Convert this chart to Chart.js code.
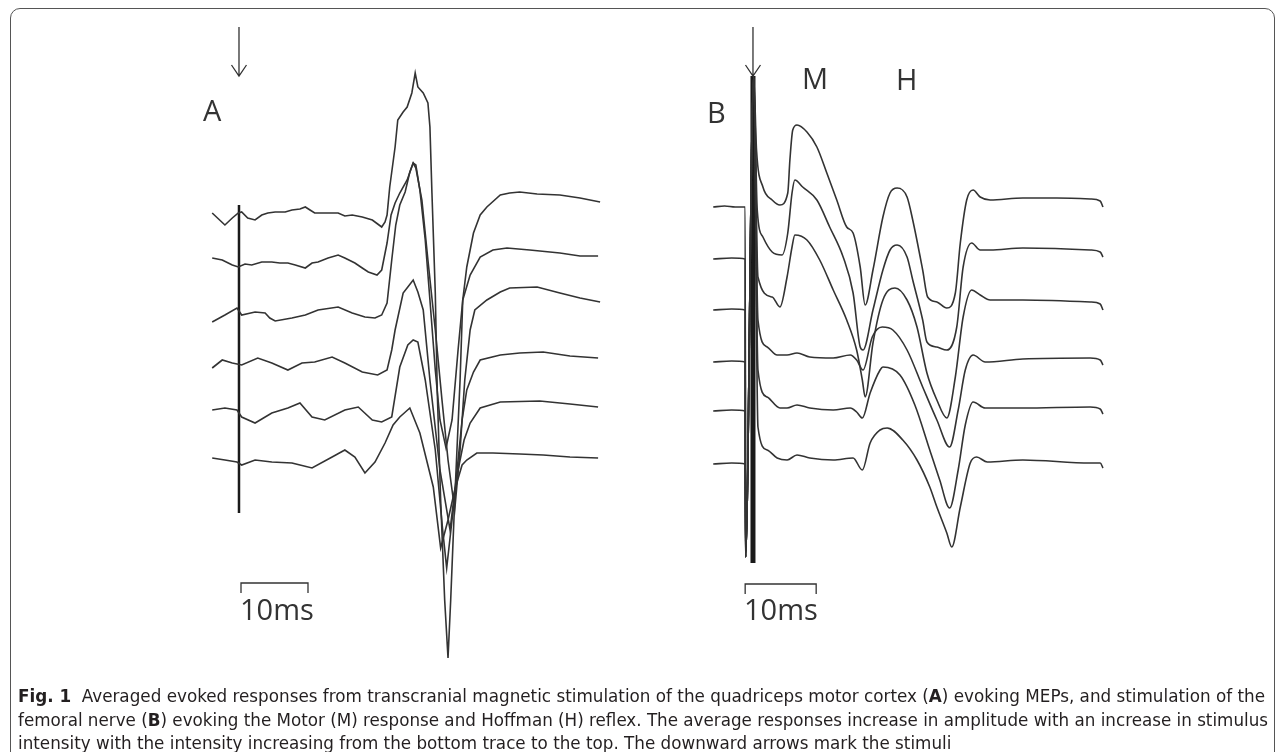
<!DOCTYPE html>
<html>
<head>
<meta charset="utf-8">
<script src="https://cdn.jsdelivr.net/npm/chart.js@4/dist/chart.umd.min.js"></script>
<style>
  body { margin: 0; background: #fff; width: 1284px; height: 752px; overflow: hidden; position: relative; font-family: "Open Sans", sans-serif; }
  .frame { position: absolute; left: 10px; top: 8px; width: 1263px; height: 800px; border: 1.5px solid #555; border-radius: 10px; }
  canvas { position: absolute; }
  .lbl { position: absolute; font-size: 29px; line-height: 1; color: #333; }
  .cap { position: absolute; left: 18px; font-family: "DejaVu Sans Condensed", "Liberation Sans Narrow", sans-serif; font-size: 18px; line-height: 24px; color: #231f20; white-space: nowrap; transform-origin: 0 0; }
</style>
</head>
<body>
<div class="frame"></div>
<canvas id="chartA" width="420" height="680" style="left:200px; top:20px;"></canvas>
<canvas id="chartB" width="440" height="680" style="left:690px; top:20px;"></canvas>

<div class="lbl" style="left:203px; top:95px;">A</div>
<div class="lbl" style="left:707px; top:97px;">B</div>
<div class="lbl" style="left:802px; top:63px;">M</div>
<div class="lbl" style="left:896px; top:64px;">H</div>
<div class="lbl" style="left:240px; top:594px;">10ms</div>
<div class="lbl" style="left:744px; top:594px;">10ms</div>

<div class="cap" data-w="1247" style="top:684px;"><b>Fig. 1</b>&nbsp; Averaged evoked responses from transcranial magnetic stimulation of the quadriceps motor cortex (<b>A</b>) evoking MEPs, and stimulation of the</div>
<div class="cap" data-w="1250" style="top:708px;">femoral nerve (<b>B</b>) evoking the Motor (M) response and Hoffman (H) reflex. The average responses increase in amplitude with an increase in stimulus</div>
<div class="cap" id="lastLine" style="top:731px;">intensity with the intensity increasing from the bottom trace to the top. The downward arrows mark the stimuli</div>

<script>
// Panel A: TMS motor evoked potentials, [time ms, amplitude] per trace, top trace first
var a1 = [[-4.0,0],[-2.1,-12],[-1.0,-5],[-0.1,0],[0.4,1],[1.3,-5],[2.4,-7],[3.4,-2],[4.3,0],[5.4,1],[6.9,1],[7.9,3],[9.1,4],[9.9,6],[10.6,3],[11.3,0],[12.8,0],[14.8,0],[15.8,-3],[16.9,-2],[18.4,-4],[19.9,-7],[20.7,-11],[21.3,-14],[21.8,-9],[22.1,-2],[22.5,26],[23.3,66],[23.7,93],[24.5,101],[25.1,106],[25.8,120],[26.3,140],[26.7,126],[27.5,120],[28.2,110],[28.5,86],[28.8,20],[29.3,-80],[29.6,-180],[30.1,-287],[30.7,-387],[31.2,-445],[31.6,-387],[32.2,-287],[33.0,-167],[33.4,-87],[34.0,-54],[35.0,-20],[36.0,-2],[37.0,6],[39.0,18],[40.4,20],[41.9,21],[44.5,19],[47.9,18],[50.9,15],[53.9,11]];
var a2 = [[-4.0,2],[-2.5,0],[-1.0,-5],[-0.1,-7],[0.9,-4],[1.9,-5],[3.4,-2],[4.9,-2],[6.1,-3],[7.3,-3],[8.4,-5],[9.9,-8],[10.9,-3],[11.8,-2],[13.3,2],[14.8,5],[15.8,2],[17.3,-3],[18.4,-8],[19.3,-12],[20.6,-15],[21.3,-10],[22.1,17],[22.7,45],[23.3,57],[24.0,67],[25.1,80],[26.0,97],[26.4,95],[27.0,70],[27.8,20],[28.5,-40],[29.3,-110],[30.0,-160],[30.9,-188],[31.8,-160],[32.7,-90],[33.4,-40],[34.5,-15],[36.0,3],[37.9,10],[40.0,12],[43.4,10],[47.9,7],[50.9,4],[53.6,4]];
var a3 = [[-4.0,-4],[-2.1,3],[-0.3,10],[0.4,3],[2.4,6],[3.9,5],[4.6,0],[5.4,-3],[7.9,0],[9.9,3],[11.8,8],[14.8,11],[16.9,5],[18.8,1],[20.3,0],[21.3,3],[22.1,15],[22.8,58],[23.4,93],[24.0,113],[24.8,126],[25.5,146],[26.0,155],[26.4,150],[27.3,118],[28.2,58],[29.3,-12],[30.3,-82],[31.2,-142],[32.2,-192],[33.0,-132],[33.7,-62],[34.5,-12],[35.2,8],[37.0,18],[39.0,26],[40.4,30],[44.5,31],[47.9,25],[50.9,20],[53.9,16]];
var a4 = [[-4.0,-1],[-2.5,7],[-1.0,4],[0.4,2],[2.8,9],[4.9,4],[7.3,-3],[9.4,4],[11.3,5],[13.9,10],[15.8,4],[18.4,-5],[20.7,-8],[22.1,-3],[22.8,17],[23.3,37],[24.5,74],[25.2,80],[26.0,87],[26.7,75],[27.5,57],[28.5,-13],[30.0,-103],[31.5,-163],[32.4,-113],[33.3,-53],[34.0,-23],[35.0,-5],[36.0,7],[39.0,12],[41.9,14],[45.4,15],[49.4,11],[53.6,9]];
var a5 = [[-4.0,0],[-2.1,2],[-0.3,0],[0.4,-7],[2.4,-13],[4.9,-3],[7.3,2],[9.1,7],[10.9,-7],[12.8,-10],[15.8,0],[17.8,3],[19.9,-10],[21.3,-12],[22.8,-7],[24.0,43],[25.2,65],[26.0,70],[26.7,68],[27.8,30],[29.3,-40],[30.4,-120],[31.0,-158],[31.8,-110],[32.7,-60],[33.6,-30],[34.5,-13],[36.0,2],[39.0,8],[44.9,9],[49.4,6],[53.6,3]];
var a6 = [[-4.0,2],[-2.1,0],[-0.3,-2],[0.4,-5],[2.4,0],[4.9,-2],[7.9,-3],[10.9,-8],[13.9,3],[15.8,10],[17.3,3],[18.8,-13],[20.3,-2],[21.8,17],[23.0,35],[24.0,43],[25.5,52],[27.0,27],[29.0,-27],[30.1,-88],[31.2,-60],[32.2,-30],[33.3,-5],[34.0,0],[35.5,7],[37.9,7],[41.9,6],[45.4,5],[49.4,3],[53.6,2]];
var offsetsA = [247, 200, 142, 93, 50, 0];

// Panel B: femoral nerve M and H responses
var b1 = [[-5.6,0],[-4.0,1],[-2.5,0],[-1.1,0],[-1.05,-350],[0.1,131],[0.5,57],[1.4,20],[2.7,7],[3.8,2],[4.9,14],[5.2,47],[5.6,77],[6.2,82],[7.6,75],[9.0,60],[10.4,34],[11.8,7],[13.2,-20],[14.1,-26],[15.1,-60],[15.8,-98],[16.9,-63],[18.3,-10],[19.3,14],[20.3,19],[21.7,10],[22.5,-13],[23.9,-63],[24.6,-90],[25.9,-95],[27.3,-101],[28.5,-86],[29.2,-36],[30.1,7],[31.0,17],[32.0,10],[33.4,7],[38.0,9],[42.8,9],[47.5,8],[48.9,6],[49.3,0]];
var b2 = [[-5.6,0],[-3.0,1],[-1.1,0],[-1.05,-298],[0.1,183],[0.6,49],[1.4,22],[2.7,7],[4.1,4],[4.9,26],[5.5,66],[5.9,79],[7.0,72],[9.0,59],[10.8,32],[12.7,2],[14.1,-34],[15.1,-88],[15.5,-91],[16.9,-51],[18.3,-11],[19.3,9],[20.3,14],[21.7,2],[22.5,-21],[23.9,-61],[24.5,-83],[25.9,-88],[27.3,-91],[28.7,-68],[29.6,-8],[30.8,16],[32.0,9],[33.4,9],[38.0,11],[47.5,9],[48.9,7],[49.3,2]];
var b3 = [[-5.6,0],[-3.0,1],[-1.1,0],[-1.05,-247],[0.1,234],[0.7,33],[2.7,13],[3.8,3],[4.8,33],[5.5,63],[5.9,75],[7.6,70],[9.4,50],[11.3,20],[13.2,-10],[14.6,-40],[15.4,-70],[15.8,-87],[16.9,-33],[18.3,10],[20.0,22],[21.7,10],[23.1,-17],[24.5,-63],[25.9,-90],[27.3,-108],[28.5,-67],[29.6,-7],[30.8,20],[32.0,15],[33.4,10],[38.0,10],[47.5,8],[48.9,6],[49.3,0]];
var b4 = [[-5.6,0],[-3.0,1],[-1.1,0],[-1.05,-195],[0.1,286],[0.7,42],[2.0,15],[3.4,7],[4.8,7],[6.2,9],[8.0,5],[11.3,4],[13.7,7],[14.6,2],[15.5,-8],[16.8,25],[18.2,35],[19.7,32],[21.7,12],[23.9,-25],[25.9,-58],[27.7,-85],[28.9,-48],[29.9,-8],[31.0,7],[32.7,0],[38.0,3],[47.5,4],[48.9,2],[49.3,-3]];
var b5 = [[-5.6,0],[-3.0,1],[-1.1,0],[-1.05,-146],[0.1,335],[0.7,41],[2.0,14],[3.8,3],[4.8,3],[6.2,6],[8.0,3],[11.3,1],[13.7,3],[14.6,-1],[15.4,-7],[16.5,18],[17.9,41],[18.3,44],[20.7,36],[22.8,6],[24.9,-39],[26.3,-69],[27.7,-97],[28.9,-59],[29.9,-14],[31.0,9],[32.7,3],[38.0,3],[47.5,4],[48.9,2],[49.3,-3]];
var b6 = [[-5.6,0],[-3.0,1],[-1.1,0],[-1.05,-93],[0.1,388],[0.7,37],[2.0,14],[3.4,6],[4.8,4],[6.2,9],[8.0,6],[11.3,4],[14.1,6],[15.4,-6],[16.5,21],[17.9,34],[18.9,36],[21.1,24],[23.1,4],[24.9,-23],[25.9,-43],[27.3,-69],[28.0,-83],[29.2,-43],[30.6,1],[31.5,7],[33.0,2],[38.0,4],[47.5,1],[48.9,1],[49.3,-4]];
var offsetsB = [257, 205, 154, 102, 53, 0];

// stimulus marker [time, top, bottom] and scale bar [start, length]
var stimA = [0, 255, -53];
var stimB = [0, 388, -99];
var barA = [0.3, 10];
var barB = [-1.1, 10];

var marks = {
  id: 'marks',
  afterDatasetsDraw: function(chart, args, opts) {
    var ctx = chart.ctx, x = chart.scales.x, y = chart.scales.y;
    ctx.save();
    ctx.strokeStyle = '#333';
    ctx.lineWidth = 1.3;
    // stimulus arrow
    var ax = x.getPixelForValue(opts.arrow[0]);
    var y0 = y.getPixelForValue(opts.arrow[1]), y1 = y.getPixelForValue(opts.arrow[2]);
    ctx.beginPath();
    ctx.moveTo(ax, y0); ctx.lineTo(ax, y1);
    ctx.moveTo(ax - 7.5, y1 - 11); ctx.lineTo(ax, y1); ctx.lineTo(ax + 7.5, y1 - 11);
    ctx.stroke();
    // 10 ms scale bar
    var s = opts.bar;
    var x0 = x.getPixelForValue(s[0]), x1 = x.getPixelForValue(s[0] + s[1]);
    var by = y.getPixelForValue(opts.barY), bt = by + 10;
    ctx.beginPath();
    ctx.moveTo(x0, bt); ctx.lineTo(x0, by); ctx.lineTo(x1, by); ctx.lineTo(x1, bt);
    ctx.stroke();
    ctx.restore();
  }
};

function traceSets(traces, offsets, smooth) {
  return traces.map(function(tr, i) {
    return {
      data: tr.map(function(p) { return {x: p[0], y: p[1] + offsets[i]}; }),
      borderColor: '#333',
      borderWidth: 1.6,
      tension: 0,
      cubicInterpolationMode: smooth ? 'monotone' : 'default',
      pointRadius: 0
    };
  });
}

function stimSet(st, w) {
  return {
    data: [{x: st[0], y: st[1]}, {x: st[0], y: st[2]}],
    borderColor: '#1a1a1a', borderWidth: w, pointRadius: 0
  };
}

function makeChart(id, datasets, xr, yr, markOpts) {
  return new Chart(document.getElementById(id).getContext('2d'), {
    type: 'line',
    data: { datasets: datasets },
    options: {
      responsive: false,
      animation: false,
      layout: { padding: 0 },
      plugins: { legend: { display: false }, tooltip: { enabled: false }, marks: markOpts },
      scales: {
        x: { type: 'linear', display: false, min: xr[0], max: xr[1] },
        y: { display: false, min: yr[0], max: yr[1] }
      }
    },
    plugins: [marks]
  });
}

var chartA = makeChart('chartA',
  traceSets([a1, a2, a3, a4, a5, a6], offsetsA, false).concat([stimSet(stimA, 2.5)]),
  [-5.82, 56.87], [-240, 440],
  { arrow: [stimA[0], 433, 384], bar: barA, barY: -123 });

var chartB = makeChart('chartB',
  traceSets([b1, b2, b3, b4, b5, b6], offsetsB, true).concat([stimSet(stimB, 5)]),
  [-8.87, 53.1], [-236, 444],
  { arrow: [stimB[0], 437, 388], bar: barB, barY: -120 });

// caption: the two full lines are fitted to their width, the last line keeps their average squeeze
var sum = 0, n = 0;
document.querySelectorAll('.cap[data-w]').forEach(function(el) {
  var f = el.dataset.w / el.getBoundingClientRect().width;
  el.style.transform = 'scaleX(' + f + ')';
  sum += f; n++;
});
document.getElementById('lastLine').style.transform = 'scaleX(' + (sum / n) + ')';
</script>
</body>
</html>
